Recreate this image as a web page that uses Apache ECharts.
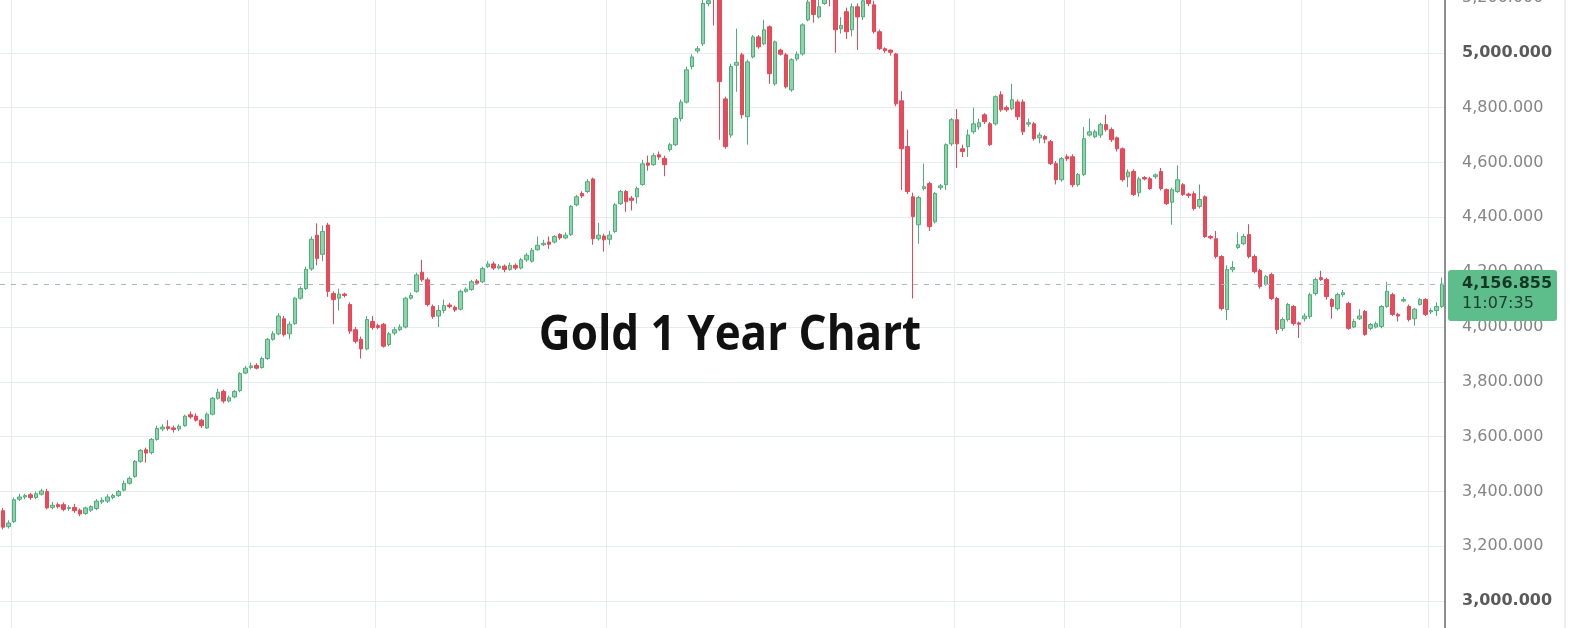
<!DOCTYPE html>
<html>
<head>
<meta charset="utf-8">
<script src="https://cdn.jsdelivr.net/npm/echarts@6/dist/echarts.min.js"></script>
<style>html,body{margin:0;padding:0;background:#fff;overflow:hidden;width:1570px;height:628px;position:relative;}#c{position:absolute;left:0;top:-2px;width:1570px;height:658px;}</style>
</head>
<body>
<div id="c"></div>
<script>
// Daily OHLC values (gold, USD)
const opens = [
3330,3272,3290,3372,3380,3388,3378,3390,3400,3342,
3352,3352,3338,3342,3332,3320,3332,3338,3362,3365,
3378,3385,3405,3430,3455,3510,3552,3542,3590,3628,
3636,3632,3628,3640,3680,3675,3660,3632,3682,3740,
3765,3730,3745,3768,3832,3852,3860,3852,3885,3955,
3975,4030,3975,4012,4105,4140,4212,4335,4265,4372,
4122,4105,4120,4082,3990,3955,3920,4020,4005,4010,
3936,3978,3990,4000,4105,4130,4200,4172,4075,4040,
4060,4080,4072,4065,4130,4137,4168,4165,4220,4230,
4215,4222,4210,4225,4215,4245,4240,4282,4300,4310,
4310,4337,4325,4337,4446,4487,4494,4540,4322,4332,
4320,4348,4450,4494,4470,4475,4520,4598,4592,4628,
4615,4647,4665,4760,4820,4950,5007,5033,5180,5260,
5200,4832,4700,4955,4993,4767,4985,5058,5033,5095,
4887,5010,4993,4865,4978,4996,5120,5200,5131,5180,
5210,5200,5088,5150,5084,5168,5131,5200,5175,5077,
5015,5010,4996,4825,4658,4475,4373,4505,4523,4384,
4508,4519,4668,4756,4650,4658,4712,4730,4774,4741,
4741,4847,4800,4796,4821,4821,4740,4741,4690,4695,
4676,4596,4537,4621,4621,4519,4556,4700,4694,4700,
4738,4720,4690,4650,4548,4567,4490,4545,4541,4548,
4567,4501,4455,4494,4519,4485,4486,4440,4475,4330,
4322,4257,4064,4210,4290,4304,4337,4257,4206,4155,
4191,4104,3995,4027,4075,4015,4030,4038,4122,4180,
4173,4100,4067,4118,4086,4000,4030,4057,3995,4000,
4002,4075,4118,4046,4095,4075,4030,4082,4100,4055,
4060,4075
];
const closes = [
3270,3285,3370,3380,3385,3378,3392,3402,3340,3350,
3345,3335,3342,3330,3318,3340,3345,3365,3368,3380,
3385,3400,3430,3448,3510,3550,3540,3590,3630,3635,
3630,3626,3638,3675,3672,3660,3640,3682,3740,3762,
3730,3742,3765,3830,3850,3858,3850,3885,3955,3975,
4040,3972,4010,4105,4140,4210,4320,4250,4348,4130,
4100,4120,4115,3985,3948,3920,4027,3998,3998,3930,
3975,3990,4000,4105,4115,4190,4172,4082,4038,4060,
4078,4075,4062,4130,4138,4165,4160,4213,4230,4215,
4222,4210,4225,4215,4245,4262,4280,4298,4305,4302,
4330,4325,4335,4440,4475,4478,4530,4322,4335,4318,
4335,4446,4494,4457,4462,4505,4595,4590,4625,4620,
4592,4665,4760,4820,4938,4985,5015,5180,5190,5200,
4895,4658,4950,4965,4774,4967,5058,5022,5084,4924,
5040,4995,4876,4975,4995,5102,5185,5140,5168,5195,
5195,5084,5100,5077,5168,5131,5190,5180,5077,5015,
5008,5002,4814,4650,4494,4403,4472,4512,4366,4487,
4515,4665,4756,4668,4640,4700,4741,4745,4749,4665,
4840,4792,4792,4829,4767,4712,4745,4687,4700,4685,
4596,4537,4614,4614,4519,4556,4687,4712,4712,4738,
4720,4683,4650,4537,4565,4483,4540,4540,4505,4555,
4505,4450,4501,4537,4483,4480,4432,4465,4330,4325,
4257,4067,4210,4217,4300,4330,4257,4202,4148,4184,
4104,3991,4027,4082,4013,4010,4040,4118,4173,4173,
4111,4075,4118,4125,3995,4020,4040,3973,4009,4012,
4075,4130,4046,4040,4100,4027,4065,4100,4046,4060,
4075,4156.855
];
const highs = [
3340,3295,3378,3392,3392,3395,3400,3410,3410,3362,
3360,3360,3350,3355,3338,3345,3350,3372,3378,3390,
3392,3405,3440,3455,3515,3555,3560,3595,3640,3645,
3660,3640,3645,3680,3692,3685,3665,3688,3745,3775,
3772,3750,3770,3835,3858,3870,3868,3892,3960,3985,
4050,4040,4020,4110,4148,4220,4330,4378,4370,4380,
4130,4140,4125,4090,4000,3965,4040,4040,4012,4015,
3982,4000,4010,4110,4125,4198,4245,4180,4082,4080,
4100,4088,4078,4136,4145,4172,4175,4220,4240,4238,
4230,4228,4235,4232,4252,4270,4288,4330,4318,4330,
4335,4342,4345,4445,4482,4495,4540,4545,4380,4340,
4350,4452,4500,4500,4478,4512,4610,4625,4635,4640,
4625,4672,4765,4830,4950,4995,5025,5230,5260,5320,
5210,4840,4960,5088,5000,4975,5065,5065,5120,5100,
5045,5015,5000,4980,5005,5108,5200,5230,5200,5230,
5235,5210,5130,5165,5180,5180,5220,5230,5190,5085,
5020,5012,5000,4860,4720,4490,4478,4596,4530,4492,
4522,4670,4762,4795,4665,4720,4800,4760,4780,4748,
4845,4860,4808,4887,4830,4830,4760,4748,4710,4700,
4682,4605,4620,4630,4630,4562,4730,4760,4720,4745,
4774,4728,4695,4655,4575,4575,4548,4550,4548,4560,
4580,4505,4508,4590,4525,4490,4495,4520,4480,4335,
4350,4262,4225,4240,4345,4340,4375,4265,4212,4190,
4198,4110,4035,4088,4080,4020,4050,4125,4180,4205,
4180,4105,4125,4135,4092,4030,4065,4062,4015,4020,
4080,4165,4125,4052,4110,4082,4070,4105,4105,4068,
4090,4180
];
const lows = [
3262,3265,3285,3365,3372,3370,3372,3385,3335,3335,
3338,3328,3330,3322,3310,3315,3325,3332,3355,3358,
3372,3380,3400,3425,3450,3505,3505,3535,3585,3620,
3622,3615,3620,3636,3665,3655,3632,3628,3678,3735,
3722,3725,3740,3762,3828,3845,3845,3848,3880,3950,
3970,3965,3955,4008,4100,4135,4205,4225,4240,4110,
4010,4060,4108,3975,3940,3885,3915,3990,3992,3925,
3930,3970,3985,3995,4100,4125,4165,4075,4030,4000,
4050,4068,4055,4060,4125,4132,4155,4160,4215,4208,
4210,4200,4205,4208,4210,4238,4235,4278,4295,4285,
4305,4318,4320,4332,4440,4470,4488,4300,4315,4275,
4300,4342,4445,4420,4425,4450,4515,4570,4588,4610,
4550,4640,4660,4750,4815,4940,5000,5025,5170,5100,
4683,4650,4690,4858,4760,4665,4980,5015,5028,4887,
4880,4990,4870,4858,4970,4990,5115,5110,5125,5175,
5170,5000,5070,5050,5060,5010,5120,5170,5070,5010,
5000,4990,4805,4500,4485,4104,4304,4498,4350,4378,
4500,4500,4660,4580,4620,4620,4705,4720,4740,4660,
4735,4785,4785,4790,4755,4700,4730,4680,4670,4670,
4590,4520,4530,4605,4510,4512,4550,4695,4688,4690,
4712,4675,4640,4530,4510,4478,4475,4535,4500,4540,
4498,4445,4373,4488,4478,4470,4425,4432,4325,4320,
4250,4060,4025,4200,4285,4298,4250,4195,4140,4150,
4098,3975,3985,4020,4005,3960,4020,4030,4115,4168,
4100,4030,4060,4110,3990,3995,4025,3968,3988,3995,
3995,4070,4040,4020,4090,4020,4005,4078,4040,4048,
4040,4070
];
// Candle indices where a new month starts (vertical grid lines)
const monthStarts = [2, 45, 68, 88, 110, 173, 193, 214, 236, 259];
// Y axis ticks
const yMin = 2800, yMax = 5200, yStep = 200;
const lastTime = '11:07:35';
const titleText = 'Gold 1 Year Chart';

const days = opens.map((_, i) => 'D' + (i + 1));
const ohlc = opens.map((o, i) => [o, closes[i], lows[i], highs[i]]);
const lastPrice = closes[closes.length - 1];
const fmt = v => Number(v).toLocaleString('en-US', {minimumFractionDigits: 3, maximumFractionDigits: 3});

const chart = echarts.init(document.getElementById('c'), null, {renderer: 'canvas'});
chart.setOption({
  backgroundColor: '#ffffff',
  animation: false,
  grid: {left: 0, right: 125, top: 0, bottom: 0, containLabel: false, outerBoundsMode: 'none'},
  xAxis: {
    type: 'category',
    data: days,
    boundaryGap: true,
    axisLine: {show: false},
    axisTick: {show: false},
    axisLabel: {show: false},
    splitLine: {
      show: true,
      interval: (idx) => monthStarts.indexOf(idx) >= 0,
      lineStyle: {color: '#e6ebf1', width: 1}
    }
  },
  yAxis: {
    type: 'value',
    position: 'right',
    min: yMin, max: yMax, interval: yStep,
    axisLine: {show: true, lineStyle: {color: '#6b6b6b', width: 1.5}},
    axisTick: {show: false},
    splitLine: {show: true, lineStyle: {color: '#e6ebf1', width: 1}},
    axisLabel: {
      margin: 17,
      fontFamily: 'DejaVu Sans',
      fontSize: 16,
      color: '#858585',
      formatter: v => (v === 5000 || v === 3000) ? '{b|' + fmt(v) + '}' : fmt(v),
      rich: {b: {fontFamily: 'DejaVu Sans', fontSize: 16, fontWeight: 'bold', color: '#5a5a5a'}}
    }
  },
  series: [{
    type: 'candlestick',
    data: ohlc,
    barWidth: 4,
    itemStyle: {
      color: '#8fd3ad', borderColor: '#4cae78',
      color0: '#ea4a5a', borderColor0: '#e54858',
      borderWidth: 1
    },
    markLine: {
      silent: true,
      symbol: 'none',
      animation: false,
      lineStyle: {color: '#a7b6c2', type: [5, 6], width: 1},
      label: {show: false},
      data: [{yAxis: lastPrice}]
    }
  }]
});

// Last-price tag placed through the value axis scale
const gridRight = chart.getWidth() - 125;
const py = chart.convertToPixel({yAxisIndex: 0}, lastPrice);
chart.setOption({
  graphic: [
    {type: 'text', x: 730, y: 338, z: 100, scaleY: 1.1,
     style: {text: titleText, font: 'bold 44px "Open Sans"', fill: '#111111', textAlign: 'center', textVerticalAlign: 'middle'}},
    {type: 'line', z: 50, shape: {x1: 1565, y1: 0, x2: 1565, y2: 658}, style: {stroke: '#dcdcdc', lineWidth: 1}},
    {type: 'rect', z: 90, shape: {x: gridRight + 3, y: py - 14, width: 109, height: 51, r: 3}, style: {fill: '#5dbe8b'}},
    {type: 'text', z: 91, x: gridRight + 17, y: py,
     style: {text: fmt(lastPrice), font: 'bold 16px "DejaVu Sans"', fill: '#163626', textVerticalAlign: 'middle'}},
    {type: 'text', z: 91, x: gridRight + 17, y: py + 20,
     style: {text: lastTime, font: '16px "DejaVu Sans"', fill: '#1d3d2c', textVerticalAlign: 'middle'}}
  ]
});
</script>
</body>
</html>
